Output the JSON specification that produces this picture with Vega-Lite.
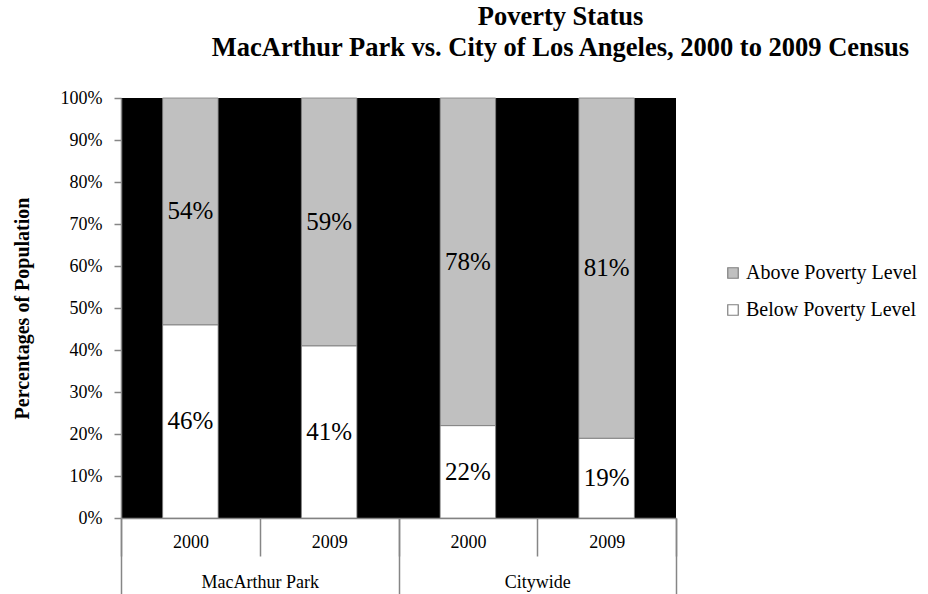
{
  "$schema": "https://vega.github.io/schema/vega-lite/v6.json",
  "width": 555,
  "height": 420,
  "autosize": {"type": "none"},
  "padding": {"left": 121, "top": 98, "right": 252, "bottom": 76},
  "background": "white",
  "config": {
    "font": "Liberation Serif",
    "view": {"fill": "black", "stroke": null}
  },
  "title": {
    "text": ["Poverty Status", "MacArthur Park vs. City of Los Angeles, 2000 to 2009 Census"],
    "font": "Liberation Serif",
    "fontSize": 26.5,
    "fontWeight": "bold",
    "lineHeight": 31,
    "color": "black",
    "anchor": "middle",
    "frame": "group",
    "dx": 162,
    "offset": 28
  },
  "data": {
    "values": [
      {"group": "MacArthur Park", "year": "2000", "key": "MacArthur Park 2000", "status": "Below Poverty Level", "value": 0.46},
      {"group": "MacArthur Park", "year": "2000", "key": "MacArthur Park 2000", "status": "Above Poverty Level", "value": 0.54},
      {"group": "MacArthur Park", "year": "2009", "key": "MacArthur Park 2009", "status": "Below Poverty Level", "value": 0.41},
      {"group": "MacArthur Park", "year": "2009", "key": "MacArthur Park 2009", "status": "Above Poverty Level", "value": 0.59},
      {"group": "Citywide", "year": "2000", "key": "Citywide 2000", "status": "Below Poverty Level", "value": 0.22},
      {"group": "Citywide", "year": "2000", "key": "Citywide 2000", "status": "Above Poverty Level", "value": 0.78},
      {"group": "Citywide", "year": "2009", "key": "Citywide 2009", "status": "Below Poverty Level", "value": 0.19},
      {"group": "Citywide", "year": "2009", "key": "Citywide 2009", "status": "Above Poverty Level", "value": 0.81}
    ]
  },
  "layer": [
    {
      "layer": [
        {
          "mark": {"type": "bar", "width": {"band": 0.4}, "stroke": "#7f7f7f", "strokeWidth": 0.8},
          "encoding": {
            "x": {
              "field": "key", "type": "nominal", "sort": null,
              "scale": {"paddingInner": 0, "paddingOuter": 0},
              "axis": {
                "orient": "bottom", "title": null, "tickBand": "extent", "tickSize": 38,
                "tickColor": "#868686", "domainColor": "#868686", "tickWidth": 1.5, "domainWidth": 1.5,
                "labelExpr": "slice(datum.label, -4)", "labelAngle": 0,
                "labelFont": "Liberation Serif", "labelFontSize": 18, "labelColor": "black",
                "labelPadding": -23
              }
            },
            "y": {
              "field": "value", "type": "quantitative", "stack": "zero",
              "scale": {"domain": [0, 1], "nice": false},
              "axis": {
                "values": [0, 0.1, 0.2, 0.3, 0.4, 0.5, 0.6, 0.7, 0.8, 0.9, 1],
                "format": ".0%", "grid": false,
                "tickSize": 7, "tickColor": "#868686", "domainColor": "#868686", "tickWidth": 1.5, "domainWidth": 1.5,
                "labelFont": "Liberation Serif", "labelFontSize": 18, "labelColor": "black", "labelPadding": 12,
                "title": "Percentages of Population",
                "titleFont": "Liberation Serif", "titleFontSize": 20, "titleFontWeight": "bold", "titleColor": "black",
                "titleX": -99, "titleY": 210, "titleAngle": -90, "titleAlign": "center", "titleBaseline": "middle"
              }
            },
            "color": {
              "field": "status", "type": "nominal",
              "scale": {"domain": ["Above Poverty Level", "Below Poverty Level"], "range": ["#c0c0c0", "#ffffff"]},
              "legend": {
                "orient": "none", "legendX": 602, "legendY": 165, "title": null,
                "labelFont": "Liberation Serif", "labelFontSize": 20, "labelColor": "black", "labelLimit": 300,
                "symbolType": "square", "symbolSize": 110, "symbolStrokeWidth": 1.2, "symbolOpacity": 1,
                "rowPadding": 17, "labelOffset": 3,
                "encode": {"symbols": {"update": {"stroke": {"signal": "datum.value === 'Below Poverty Level' ? 'black' : '#c0c0c0'"}}}}
              }
            },
            "order": {"field": "status", "sort": "descending"}
          }
        },
        {
          "mark": {"type": "text", "fontSize": 25, "color": "black", "baseline": "middle", "font": "Liberation Serif"},
          "encoding": {
            "x": {"field": "key", "type": "nominal", "sort": null},
            "y": {"field": "value", "type": "quantitative", "stack": "zero", "bandPosition": 0.5},
            "detail": {"field": "status"},
            "order": {"field": "status", "sort": "descending"},
            "text": {"field": "value", "type": "quantitative", "format": ".0%"}
          }
        }
      ]
    },
    {
      "mark": {"type": "text", "text": " ", "opacity": 0},
      "encoding": {
        "x": {
          "field": "group", "type": "nominal", "sort": null,
          "scale": {"paddingInner": 0, "paddingOuter": 0},
          "axis": {
            "orient": "bottom", "title": null, "domain": false, "tickBand": "extent", "tickSize": 76,
            "tickColor": "#868686", "tickWidth": 1.5, "labelAngle": 0,
            "labelFont": "Liberation Serif", "labelFontSize": 18, "labelColor": "black",
            "labelPadding": -21
          }
        }
      }
    }
  ],
  "resolve": {"scale": {"x": "independent"}, "axis": {"x": "independent"}}
}
